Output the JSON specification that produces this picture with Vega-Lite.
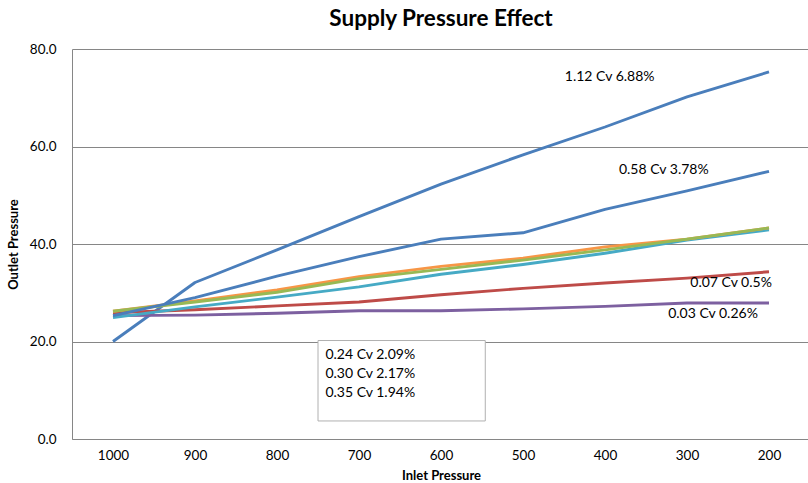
{
  "$schema": "https://vega.github.io/schema/vega-lite/v6.json",
  "width": 738,
  "height": 390,
  "autosize": "none",
  "padding": {"left": 72, "top": 49, "right": 0, "bottom": 44},
  "background": "white",
  "config": {
    "view": {"stroke": null},
    "font": "Lato",
    "axis": {"labelFont": "Lato", "titleFont": "Lato", "labelColor": "#000000", "titleColor": "#000000"}
  },
  "title": {"text": "Supply Pressure Effect", "font": "Lato", "fontSize": 22.5, "fontWeight": "bold", "color": "#000000", "anchor": "middle", "offset": 12},
  "datasets": {
    "series": [
      {"series": "1.12 Cv", "inlet": 1000, "outlet": 20.0},
      {"series": "1.12 Cv", "inlet": 900, "outlet": 32.1},
      {"series": "1.12 Cv", "inlet": 800, "outlet": 38.8},
      {"series": "1.12 Cv", "inlet": 700, "outlet": 45.6},
      {"series": "1.12 Cv", "inlet": 600, "outlet": 52.3},
      {"series": "1.12 Cv", "inlet": 500, "outlet": 58.3},
      {"series": "1.12 Cv", "inlet": 400, "outlet": 64.0},
      {"series": "1.12 Cv", "inlet": 300, "outlet": 70.2},
      {"series": "1.12 Cv", "inlet": 200, "outlet": 75.3},
      {"series": "0.07 Cv", "inlet": 1000, "outlet": 25.9},
      {"series": "0.07 Cv", "inlet": 900, "outlet": 26.5},
      {"series": "0.07 Cv", "inlet": 800, "outlet": 27.3},
      {"series": "0.07 Cv", "inlet": 700, "outlet": 28.1},
      {"series": "0.07 Cv", "inlet": 600, "outlet": 29.6},
      {"series": "0.07 Cv", "inlet": 500, "outlet": 30.9},
      {"series": "0.07 Cv", "inlet": 400, "outlet": 32.0},
      {"series": "0.07 Cv", "inlet": 300, "outlet": 33.0},
      {"series": "0.07 Cv", "inlet": 200, "outlet": 34.3},
      {"series": "0.03 Cv", "inlet": 1000, "outlet": 25.3},
      {"series": "0.03 Cv", "inlet": 900, "outlet": 25.4},
      {"series": "0.03 Cv", "inlet": 800, "outlet": 25.8},
      {"series": "0.03 Cv", "inlet": 700, "outlet": 26.3},
      {"series": "0.03 Cv", "inlet": 600, "outlet": 26.3},
      {"series": "0.03 Cv", "inlet": 500, "outlet": 26.7},
      {"series": "0.03 Cv", "inlet": 400, "outlet": 27.2},
      {"series": "0.03 Cv", "inlet": 300, "outlet": 27.9},
      {"series": "0.03 Cv", "inlet": 200, "outlet": 27.9},
      {"series": "0.35 Cv", "inlet": 1000, "outlet": 24.9},
      {"series": "0.35 Cv", "inlet": 900, "outlet": 27.1},
      {"series": "0.35 Cv", "inlet": 800, "outlet": 29.1},
      {"series": "0.35 Cv", "inlet": 700, "outlet": 31.2},
      {"series": "0.35 Cv", "inlet": 600, "outlet": 33.8},
      {"series": "0.35 Cv", "inlet": 500, "outlet": 35.8},
      {"series": "0.35 Cv", "inlet": 400, "outlet": 38.1},
      {"series": "0.35 Cv", "inlet": 300, "outlet": 40.8},
      {"series": "0.35 Cv", "inlet": 200, "outlet": 42.9},
      {"series": "0.24 Cv", "inlet": 1000, "outlet": 26.2},
      {"series": "0.24 Cv", "inlet": 900, "outlet": 28.3},
      {"series": "0.24 Cv", "inlet": 800, "outlet": 30.6},
      {"series": "0.24 Cv", "inlet": 700, "outlet": 33.3},
      {"series": "0.24 Cv", "inlet": 600, "outlet": 35.4},
      {"series": "0.24 Cv", "inlet": 500, "outlet": 37.1},
      {"series": "0.24 Cv", "inlet": 400, "outlet": 39.4},
      {"series": "0.24 Cv", "inlet": 300, "outlet": 41.0},
      {"series": "0.24 Cv", "inlet": 200, "outlet": 43.3},
      {"series": "0.30 Cv", "inlet": 1000, "outlet": 26.2},
      {"series": "0.30 Cv", "inlet": 900, "outlet": 28.1},
      {"series": "0.30 Cv", "inlet": 800, "outlet": 30.1},
      {"series": "0.30 Cv", "inlet": 700, "outlet": 32.9},
      {"series": "0.30 Cv", "inlet": 600, "outlet": 34.8},
      {"series": "0.30 Cv", "inlet": 500, "outlet": 36.7},
      {"series": "0.30 Cv", "inlet": 400, "outlet": 38.8},
      {"series": "0.30 Cv", "inlet": 300, "outlet": 41.0},
      {"series": "0.30 Cv", "inlet": 200, "outlet": 43.3},
      {"series": "0.58 Cv", "inlet": 1000, "outlet": 25.3},
      {"series": "0.58 Cv", "inlet": 900, "outlet": 29.0},
      {"series": "0.58 Cv", "inlet": 800, "outlet": 33.4},
      {"series": "0.58 Cv", "inlet": 700, "outlet": 37.4},
      {"series": "0.58 Cv", "inlet": 600, "outlet": 41.0},
      {"series": "0.58 Cv", "inlet": 500, "outlet": 42.3},
      {"series": "0.58 Cv", "inlet": 400, "outlet": 47.1},
      {"series": "0.58 Cv", "inlet": 300, "outlet": 50.9},
      {"series": "0.58 Cv", "inlet": 200, "outlet": 54.9}
    ],
    "labels": [
      {"label": "1.12 Cv 6.88%", "inlet": 449, "outlet": 74.3},
      {"label": "0.58 Cv 3.78%", "inlet": 383, "outlet": 55.2},
      {"label": "0.07 Cv 0.5%", "inlet": 296, "outlet": 32.0},
      {"label": "0.03 Cv 0.26%", "inlet": 323, "outlet": 25.6}
    ],
    "box": [
      {"x1": 750, "x2": 546, "y1": 20.2, "y2": 3.7}
    ],
    "boxtext": [
      {"label": "0.24 Cv 2.09%", "inlet": 741, "outlet": 17.2},
      {"label": "0.30 Cv 2.17%", "inlet": 741, "outlet": 13.3},
      {"label": "0.35 Cv 1.94%", "inlet": 741, "outlet": 9.4}
    ]
  },
  "layer": [
    {
      "data": {"name": "series"},
      "mark": {"type": "line", "strokeWidth": 2.9, "strokeCap": "butt", "strokeJoin": "round"},
      "encoding": {
        "x": {
          "field": "inlet", "type": "quantitative",
          "scale": {"domain": [1050, 150], "nice": false, "zero": false},
          "axis": {"title": "Inlet Pressure", "values": [1000, 900, 800, 700, 600, 500, 400, 300, 200], "format": "d", "grid": false, "ticks": false, "domainColor": "#868686", "domainWidth": 1, "labelFontSize": 13.5, "labelPadding": 9, "titleFontSize": 13, "titleFontWeight": "bold", "titlePadding": 8}
        },
        "y": {
          "field": "outlet", "type": "quantitative",
          "scale": {"domain": [0, 80], "nice": false},
          "axis": {"title": "Outlet Pressure", "values": [0, 20, 40, 60, 80], "format": ".1f", "grid": true, "gridColor": "#868686", "gridWidth": 1, "ticks": false, "domainColor": "#868686", "domainWidth": 1, "labelFontSize": 13.5, "labelPadding": 16, "titleFontSize": 13, "titleFontWeight": "bold", "titlePadding": 9}
        },
        "color": {
          "field": "series", "type": "nominal",
          "scale": {
            "domain": ["1.12 Cv", "0.07 Cv", "0.03 Cv", "0.35 Cv", "0.24 Cv", "0.30 Cv", "0.58 Cv"],
            "range": ["#4A7EBB", "#BE4B48", "#7D60A0", "#46AAC5", "#F79646", "#98B954", "#4A7EBB"]
          },
          "legend": null
        }
      }
    },
    {
      "data": {"name": "labels"},
      "mark": {"type": "text", "align": "left", "baseline": "middle", "fontSize": 14, "font": "Lato", "color": "#000000"},
      "encoding": {
        "x": {"field": "inlet", "type": "quantitative"},
        "y": {"field": "outlet", "type": "quantitative"},
        "text": {"field": "label"}
      }
    },
    {
      "data": {"name": "box"},
      "mark": {"type": "rect", "fill": "white", "stroke": "#B0B0B0", "strokeWidth": 1},
      "encoding": {
        "x": {"field": "x1", "type": "quantitative"},
        "x2": {"field": "x2"},
        "y": {"field": "y1", "type": "quantitative"},
        "y2": {"field": "y2"}
      }
    },
    {
      "data": {"name": "boxtext"},
      "mark": {"type": "text", "align": "left", "baseline": "middle", "fontSize": 14, "font": "Lato", "color": "#000000"},
      "encoding": {
        "x": {"field": "inlet", "type": "quantitative"},
        "y": {"field": "outlet", "type": "quantitative"},
        "text": {"field": "label"}
      }
    }
  ]
}
